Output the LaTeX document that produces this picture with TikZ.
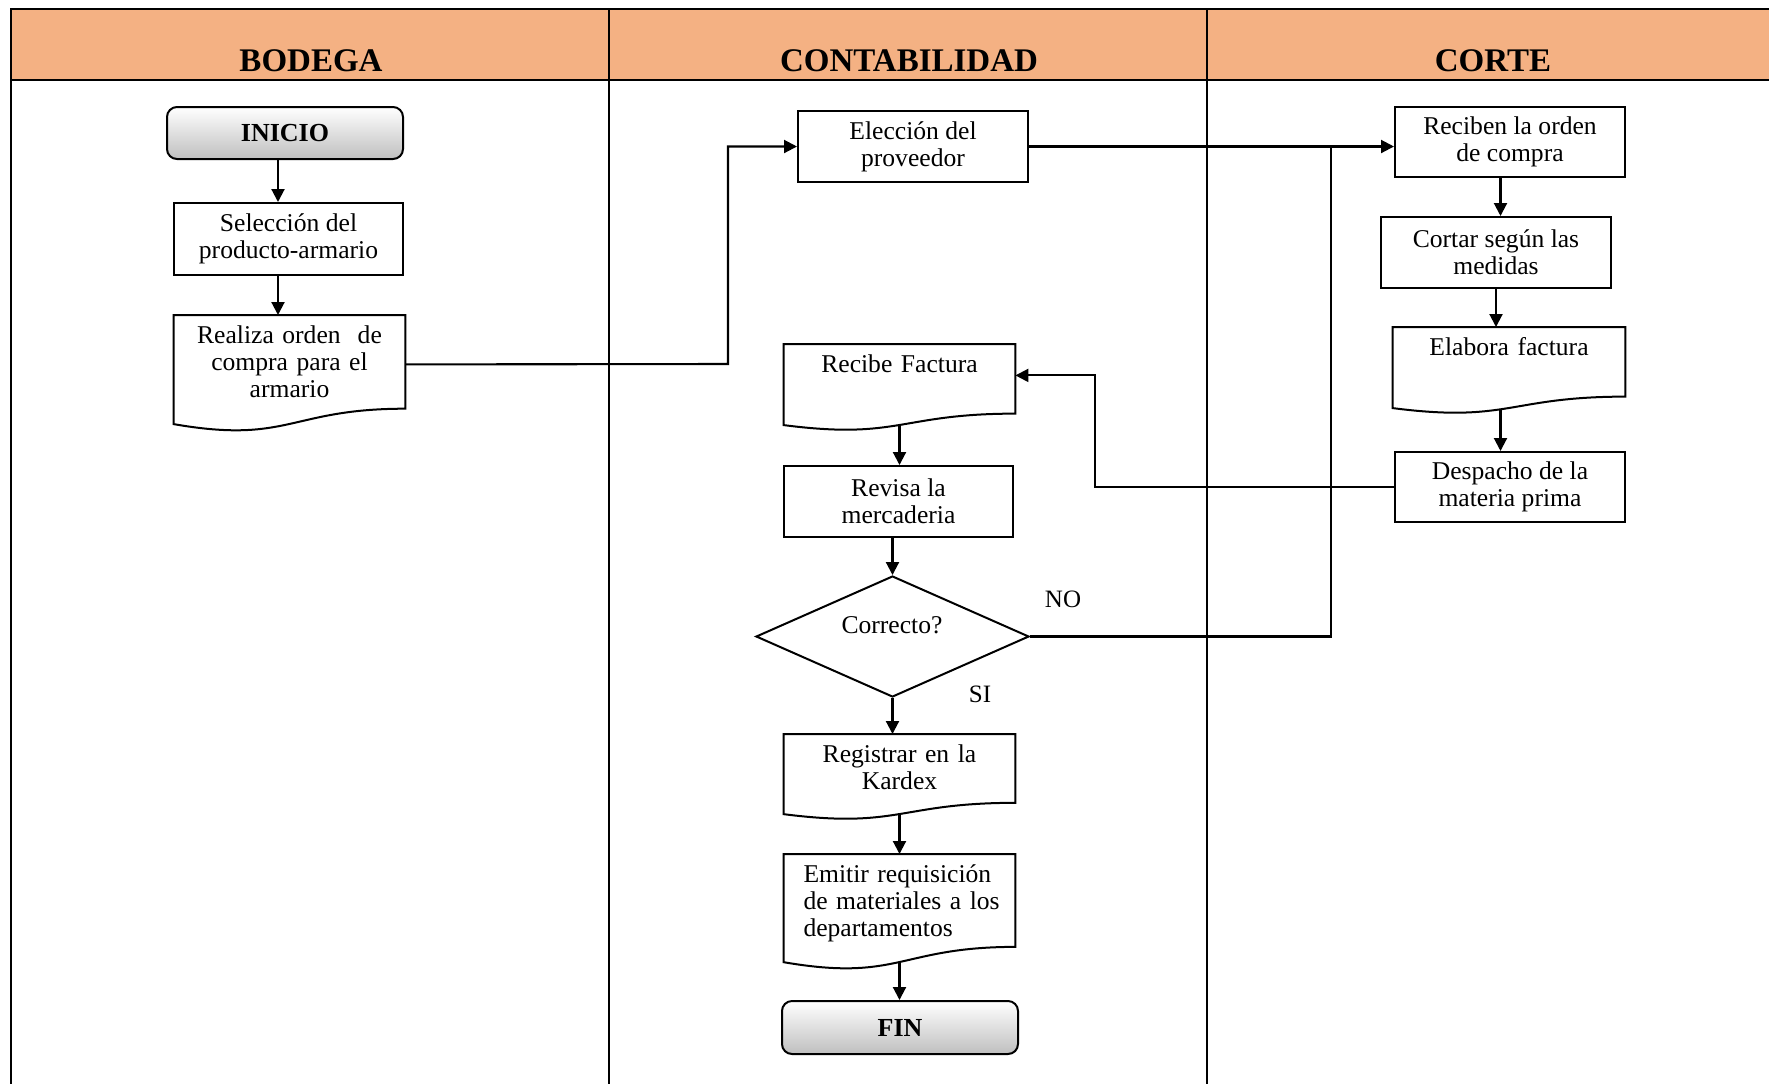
\documentclass[tikz,border=0pt]{standalone}
\usepackage{fontspec}
\setmainfont{Liberation Serif}
\usetikzlibrary{arrows.meta,calc,shapes.geometric}
\definecolor{hdrcol}{HTML}{F4B183}
\tikzset{
  lane/.style={line width=1.2pt, draw=black},
  ln/.style={line width=1.05pt, draw=black},
  arr/.style={ln, -{Triangle[length=6.5pt,width=6.5pt]}},
  txt/.style={font=\fontsize{12.8}{13.5}\selectfont},
  box/.style={draw, line width=1pt, rectangle, align=center, inner sep=0pt, txt},
  term/.style={draw, line width=1pt, rectangle, rounded corners=5pt, top color=white, bottom color=black!25, inner sep=0pt, font=\bfseries\fontsize{13}{14}\selectfont},
  docframe/.style={rectangle, inner sep=0pt, anchor=north},
  doctxt/.style={txt, inner sep=0pt, anchor=north, align=center},
  dia/.style={draw, line width=1pt, diamond, inner sep=0pt},
  hdr/.style={font=\bfseries\fontsize{16.5}{18}\selectfont},
  lbl/.style={font=\fontsize{12.5}{14}\selectfont},
}
% #1 text options, #2 name, #3 x centre, #4 y top, #5 width, #6 height, #7 text
\newcommand\mkdoc[7]{%
  \node[docframe, minimum width=#5*0.5pt, minimum height=#6*0.5pt] (#2) at (#3,#4) {};
  \node[doctxt, #1] (#2t) at ([yshift=-5pt]#2.north) {#7};
  \draw[line width=1pt] (#2.north west) -- (#2.north east)
    -- ($(#2.north east)!0.802!(#2.south east)$)
    .. controls ($(#2.north)!0.802!(#2.south)$) and ($(#2.north)!1.107!(#2.south)$)
    .. ($(#2.north west)!0.934!(#2.south west)$) -- cycle;
  \coordinate (#2-b) at ($(#2.north)!0.933!(#2.south)$);
}
\begin{document}
\begin{tikzpicture}[x=0.5pt,y=-0.5pt]
\useasboundingbox (0,0) rectangle (1769,1084);
% lanes
\fill[hdrcol] (11,9) rectangle (1769,80);
\draw[lane] (1769,9) -- (11,9) -- (11,1084);
\draw[lane] (11,80) -- (1769,80);
\draw[lane] (609,9) -- (609,1084);
\draw[lane] (1207,9) -- (1207,1084);
\node[hdr] (hb) at (311,61) {BODEGA};
\node[hdr] (hc) at (909,61) {CONTABILIDAD};
\node[hdr] (hk) at (1493,61) {CORTE};

% BODEGA
\node[term, minimum width=118pt, minimum height=26pt] (ini) at (285,133) {INICIO};
\node[box, minimum width=114.5pt, minimum height=36pt] (sel) at (288.5,239) {Selección del\\producto-armario};
\mkdoc{text width=105pt}{rea}{289.5}{315}{231}{116}{Realiza orden\ \ de\\compra para el\\armario}

% CONTABILIDAD
\node[box, minimum width=115pt, minimum height=35.5pt] (ele) at (913,146.5) {Elección del\\proveedor};
\mkdoc{text width=105pt}{rf}{899.5}{344}{231}{86}{Recibe Factura}
\node[box, minimum width=114.5pt, minimum height=35.5pt] (rev) at (898.5,501.5) {Revisa la\\mercaderia};
\node[dia, minimum width=136.5pt, minimum height=60.5pt] (dec) at (892.5,636.5) {};
\node[txt] (dect) at (892,625) {Correcto?};
\mkdoc{text width=105pt}{reg}{899.5}{734}{231}{85}{Registrar en la\\Kardex}
\mkdoc{text width=100pt, align=left, xshift=2pt}{emi}{899.5}{854}{231}{115}{Emitir requisición\\de materiales a los\\departamentos}
\node[term, minimum width=118pt, minimum height=26.5pt] (fin) at (900,1027.5) {FIN};
\node[lbl] (no) at (1063,599) {NO};
\node[lbl] (si) at (980,694) {SI};

% CORTE
\node[box, minimum width=115pt, minimum height=35pt] (rec) at (1510,142) {Reciben la orden\\de compra};
\node[box, minimum width=115pt, minimum height=35.5pt] (cor) at (1496,252.5) {Cortar según las\\medidas};
\mkdoc{text width=105pt}{ela}{1509}{327}{232}{86}{Elabora factura}
\node[box, minimum width=115pt, minimum height=35pt] (des) at (1510,487) {Despacho de la\\materia prima};

% connectors
\coordinate (c1) at ([xshift=-3.5pt]ini.south);
\draw[arr] (c1) -- (c1 |- sel.north);
\coordinate (c2) at ([xshift=-5.25pt]sel.south);
\draw[arr] (c2) -- (c2 |- rea.north);
\coordinate (k1) at (728,364);
\draw[arr] ([yshift=4.5pt]rea.east) -- (k1) |- (ele.west);
\draw[arr] (ele.east) -- (ele.east -| rec.west);
\coordinate (j) at (1331,146.5);
\draw[ln] (dec.east) -| (j);
\coordinate (c3) at ([xshift=-4.75pt]rec.south);
\draw[arr] (c3) -- (c3 |- cor.north);
\draw[arr] (cor.south) -- (cor.south |- ela.north);
\coordinate (c4) at ([xshift=-4.25pt,yshift=-1pt]ela-b);
\draw[arr] (c4) -- (c4 |- des.north);
\coordinate (k2) at (1095,487);
\draw[arr] (des.west) -- (k2) |- ([yshift=6pt]rf.east);
\draw[arr] (rf-b) -- (rf-b |- rev.north);
\draw[arr] (dec.north |- rev.south) -- (dec.north);
\draw[arr] (dec.south) -- (dec.south |- reg.north);
\draw[arr] (reg-b) -- (reg-b |- emi.north);
\draw[arr] (emi-b) -- (emi-b |- fin.north);
\end{tikzpicture}
\end{document}
